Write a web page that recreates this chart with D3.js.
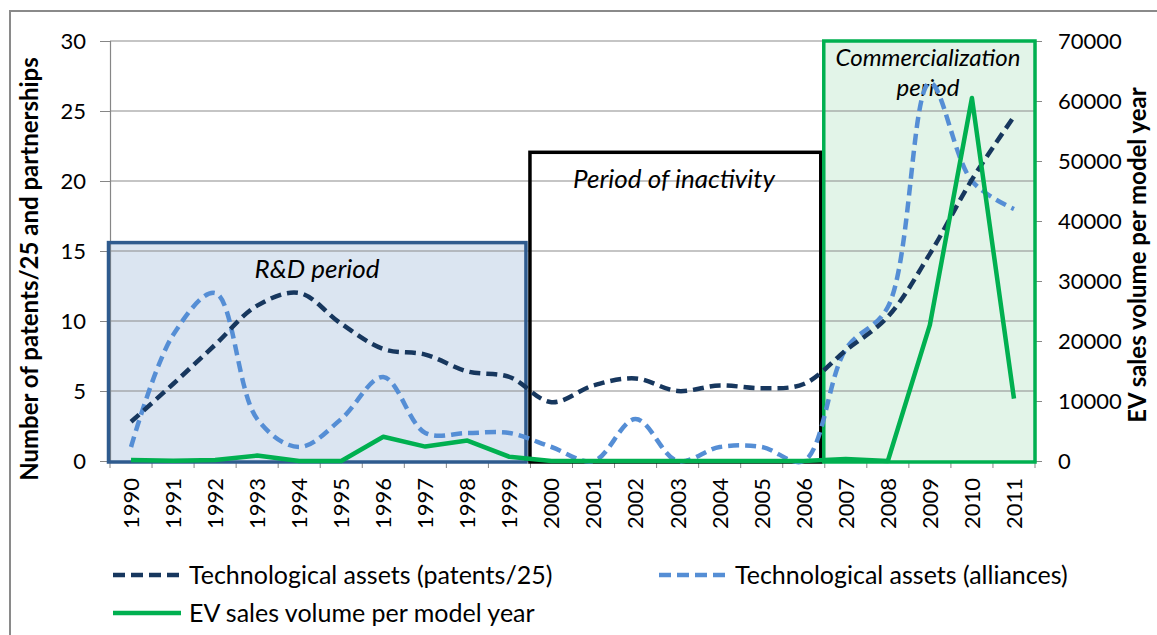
<!DOCTYPE html>
<html>
<head>
<meta charset="utf-8">
<script src="https://cdn.jsdelivr.net/npm/d3@7"></script>
<style>
  body { margin: 0; background: #fff; }
  svg text { font-family: Lato, "Open Sans", sans-serif; fill: #000; }
</style>
</head>
<body>
<svg width="1157" height="635"></svg>
<script>
var svg = d3.select("svg"),
    width = +svg.attr("width"),
    height = +svg.attr("height");

// categories and series
var years = ["1990", "1991", "1992", "1993", "1994", "1995", "1996", "1997", "1998", "1999", "2000",
             "2001", "2002", "2003", "2004", "2005", "2006", "2007", "2008", "2009", "2010", "2011"];
var patents = [2.8, 5.5, 8.3, 11.1, 12.0, 9.8, 8.0, 7.6, 6.4, 6.0, 4.2,
               5.4, 5.9, 5.0, 5.4, 5.2, 5.5, 7.9, 10.3, 14.8, 20.1, 24.6];
var alliances = [1, 9, 12, 3, 1, 3, 6, 2, 2, 2, 1,
                 0, 3, 0, 1, 1, 0, 8, 11, 27, 20, 18];
var sales = [150, 50, 150, 900, 0, 0, 4050, 2400, 3400, 700, 0,
             0, 0, 0, 0, 0, 0, 350, 0, 22700, 60500, 10400];
var leftTicks = [0, 5, 10, 15, 20, 25, 30];
var rightTicks = [0, 10000, 20000, 30000, 40000, 50000, 60000, 70000];

// period boxes: first / last year and top value on the left axis
var periods = [
  {name: "rd", from: "1990", to: "1999", top: 15.6, fill: "#dbe5f1", stroke: "#2f5b8e", dl: -1.5, dr: -4.5,
   label: ["R&D period"], lx: 317, ly: [278], fs: 26},
  {name: "idle", from: "2000", to: "2006", top: 22.05, fill: "none", stroke: "#000", dl: -0.5, dr: -4,
   label: ["Period of inactivity"], lx: 674, ly: [188], fs: 26},
  {name: "comm", from: "2007", to: "2011", top: 30, fill: "#e2f4e8", stroke: "#00b050", dl: -1, dr: 0,
   label: ["Commercialization", "period"], lx: 928, ly: [66, 96], fs: 24}
];

var plot = {left: 110, right: 1035, top: 41, bottom: 461};

var x = d3.scaleBand().domain(years).range([plot.left, plot.right]);
var yL = d3.scaleLinear().domain([0, 30]).range([plot.bottom, plot.top]);
var yR = d3.scaleLinear().domain([0, 70000]).range([plot.bottom, plot.top]);

// outer chart border
svg.append("rect")
  .attr("x", 10).attr("y", 11)
  .attr("width", 1160).attr("height", 640)
  .attr("fill", "none").attr("stroke", "#8a8a8a").attr("stroke-width", 2);

// box fills first so gridlines stay visible
svg.append("g").selectAll("rect")
  .data(periods.filter(function(d) { return d.fill != "none"; }))
  .enter().append("rect")
  .attr("x", function(d) { return x(d.from) + d.dl; })
  .attr("y", function(d) { return yL(d.top); })
  .attr("width", function(d) { return x(d.to) + x.bandwidth() + d.dr - x(d.from) - d.dl; })
  .attr("height", function(d) { return plot.bottom - yL(d.top); })
  .attr("fill", function(d) { return d.fill; });

// gridlines
svg.append("g").selectAll("line")
  .data(leftTicks.filter(function(d) { return d > 0; }))
  .enter().append("line")
  .attr("x1", plot.left).attr("x2", plot.right)
  .attr("y1", function(d) { return yL(d); })
  .attr("y2", function(d) { return yL(d); })
  .attr("stroke", "#8c8c8c").attr("stroke-width", 1.2);

// left axis
var leftAxis = svg.append("g")
  .attr("transform", "translate(" + plot.left + ",0)")
  .call(d3.axisLeft(yL).tickValues(leftTicks).tickSize(10).tickPadding(14));
leftAxis.selectAll("text").style("font-size", "22px").attr("fill", "#000");

// right axis
var rightAxis = svg.append("g")
  .attr("transform", "translate(" + plot.right + ",0)")
  .call(d3.axisRight(yR).tickValues(rightTicks).tickFormat(d3.format("d")).tickSize(7).tickPadding(16));
rightAxis.selectAll("text").style("font-size", "22px").attr("fill", "#000");

// bottom axis, ticks between categories
var bottomAxis = svg.append("g")
  .attr("transform", "translate(0," + plot.bottom + ")")
  .call(d3.axisBottom(x).tickSize(0).tickPadding(0));
bottomAxis.selectAll("text")
  .style("font-size", "22px")
  .attr("text-anchor", "end")
  .attr("transform", "rotate(-90)")
  .attr("x", -17).attr("y", 0).attr("dy", "0.36em");
bottomAxis.selectAll(".sep")
  .data(years.concat(["end"]))
  .enter().append("line")
  .attr("class", "sep")
  .attr("x1", function(d, i) { return plot.left + i * x.bandwidth(); })
  .attr("x2", function(d, i) { return plot.left + i * x.bandwidth(); })
  .attr("y1", 0).attr("y2", 7)
  .attr("stroke", "#868686");

svg.selectAll(".domain").attr("stroke", "#868686").attr("stroke-width", 1.2);
svg.selectAll(".tick line").attr("stroke", "#868686");

// box outlines
svg.append("g").selectAll("rect")
  .data(periods)
  .enter().append("rect")
  .attr("x", function(d) { return x(d.from) + d.dl; })
  .attr("y", function(d) { return yL(d.top); })
  .attr("width", function(d) { return x(d.to) + x.bandwidth() + d.dr - x(d.from) - d.dl; })
  .attr("height", function(d) { return plot.bottom + 1 - yL(d.top); })
  .attr("fill", "none")
  .attr("stroke", function(d) { return d.stroke; })
  .attr("stroke-width", 3.5);

// box captions
periods.forEach(function(p) {
  p.label.forEach(function(t, i) {
    svg.append("text")
      .attr("x", p.lx).attr("y", p.ly[i])
      .attr("text-anchor", "middle")
      .style("font-style", "italic")
      .style("font-size", p.fs + "px")
      .text(t);
  });
});

// series
var smooth = d3.line()
  .x(function(d, i) { return x(years[i]) + x.bandwidth() / 2; })
  .curve(d3.curveCatmullRom);

svg.append("path")
  .datum(alliances)
  .attr("d", smooth.y(function(d) { return yL(d); }))
  .attr("fill", "none").attr("stroke", "#558ed5")
  .attr("stroke-width", 4.5).attr("stroke-dasharray", "11,6");

svg.append("path")
  .datum(patents)
  .attr("d", smooth.y(function(d) { return yL(d); }))
  .attr("fill", "none").attr("stroke", "#17375e")
  .attr("stroke-width", 4.5).attr("stroke-dasharray", "11,6");

svg.append("path")
  .datum(sales)
  .attr("d", d3.line()
    .x(function(d, i) { return x(years[i]) + x.bandwidth() / 2; })
    .y(function(d) { return yR(d); }))
  .attr("fill", "none").attr("stroke", "#00b050")
  .attr("stroke-width", 4.5).attr("stroke-linejoin", "round");

// axis titles
svg.append("text")
  .attr("transform", "translate(38,269) rotate(-90)")
  .attr("text-anchor", "middle")
  .style("font-weight", "bold").style("font-size", "24px")
  .text("Number of patents/25 and partnerships");

svg.append("text")
  .attr("transform", "translate(1146,255) rotate(-90)")
  .attr("text-anchor", "middle")
  .style("font-weight", "bold").style("font-size", "24px")
  .text("EV sales volume per model year");

// legend
var legend = [
  {label: "Technological assets (patents/25)", color: "#17375e", dash: "12,6", lx: 113, ly: 575},
  {label: "Technological assets (alliances)", color: "#558ed5", dash: "12,6", lx: 659, ly: 575},
  {label: "EV sales volume per model year", color: "#00b050", dash: null, lx: 113, ly: 613}
];
var item = svg.append("g").selectAll("g")
  .data(legend)
  .enter().append("g")
  .attr("transform", function(d) { return "translate(" + d.lx + "," + d.ly + ")"; });
item.append("line")
  .attr("x1", 0).attr("x2", 68)
  .attr("stroke", function(d) { return d.color; })
  .attr("stroke-width", 4.5)
  .attr("stroke-dasharray", function(d) { return d.dash; });
item.append("text")
  .attr("x", 76).attr("dy", "0.36em")
  .style("font-size", "25px")
  .text(function(d) { return d.label; });
</script>
</body>
</html>
